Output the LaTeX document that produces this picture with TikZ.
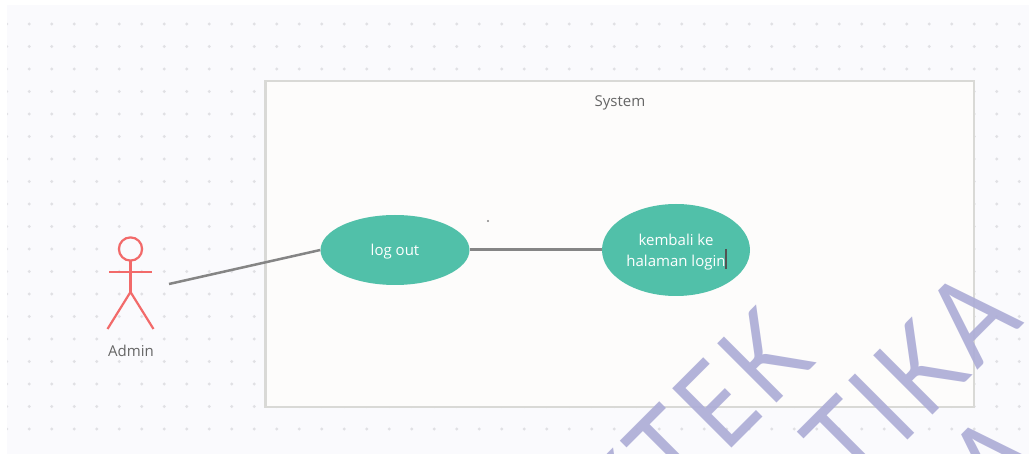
\documentclass[tikz,border=0pt]{standalone}
\usepackage{fontspec}
\setmainfont{Open Sans}
\newfontfamily\wmfont[Kerning=Off,FakeStretch=0.85,LetterSpace=6]{Lato}
\usetikzlibrary{shapes.geometric}
\definecolor{panel}{HTML}{FAFAFD}
\definecolor{griddot}{HTML}{E0E0E4}
\definecolor{sysfill}{HTML}{FDFCFB}
\definecolor{sysline}{HTML}{D9D9D6}
\definecolor{usecase}{HTML}{51C0A9}
\definecolor{actorred}{HTML}{F26A6A}
\definecolor{conn}{HTML}{858585}
\definecolor{label}{HTML}{666666}
\definecolor{wm}{RGB}{172,172,214}
\tikzset{
  usecasenode/.style={ellipse,fill=usecase,inner sep=0pt,text=white,align=center,font=\fontsize{15}{21}\selectfont},
  labelnode/.style={text=label,inner sep=0pt,font=\fontsize{15}{18}\selectfont},
  conline/.style={draw=conn,line width=2.5pt},
  actorline/.style={draw=actorred,line width=2.2pt},
  wmtext/.style={text=wm,opacity=.9,rotate=45,anchor=base west,inner sep=0pt,font=\wmfont\fontsize{117}{117}\selectfont}
}
\begin{document}
\begin{tikzpicture}[x=1pt,y=-1pt]
\useasboundingbox (0,0) rectangle (1029,454);
\clip (0,0) rectangle (1029,454);
\fill[white] (0,0) rectangle (1029,454);
\fill[panel] (7,5) rectangle (1029,454);
\foreach \i in {0,...,45}{
  \foreach \j in {0,...,18}{
    \fill[griddot] ({6.8+22.5*\i},{24+22.5*\j}) circle (1.6);
  }
}
\fill[white] (0,0) rectangle (7,454);
\draw[draw=sysline,fill=sysfill,line width=2.6pt] (265.5,81) rectangle (974,407);
\node[labelnode] (system) at (620,103) {System};
\node[usecasenode,minimum width=149pt,minimum height=70pt] (logout) at (395,250) {\rule{0pt}{15pt}log out};
\node[usecasenode,minimum width=148pt,minimum height=92pt] (kembali) at (676,250) {\rule{0pt}{15pt}kembali ke\\halaman login};
\draw[draw=label!80!black,line width=2pt] (726,249) -- (726,269);
\fill[conn] (488,221) circle (1.1);
\coordinate (actorend) at (169,284);
\draw[conline] (actorend) -- (logout.west);
\draw[conline,line width=3pt] (logout.east) -- (kembali.west);
% actor
\draw[actorline] (130.5,249) circle (11.6);
\coordinate (neck) at (130.5,260.6);
\coordinate (hip) at (130.5,292);
\coordinate (armL) at (109,272);
\coordinate (armR) at (152,272);
\coordinate (legL) at (107.5,329);
\coordinate (legR) at (153.5,329);
\draw[actorline] (neck) -- (hip);
\draw[actorline] (armL) -- (armR);
\draw[actorline] (legL) -- (hip) -- (legR);
\node[labelnode] (admin) at (131,351) {Admin};
% watermark
\node[wmtext] (wmone) at (627,553) {KTEK};
\node[wmtext] (wmtwo) at (855,493) {TIKA};
\node[wmtext] (wmthree) at (1000,515) {A};
\end{tikzpicture}
\end{document}
